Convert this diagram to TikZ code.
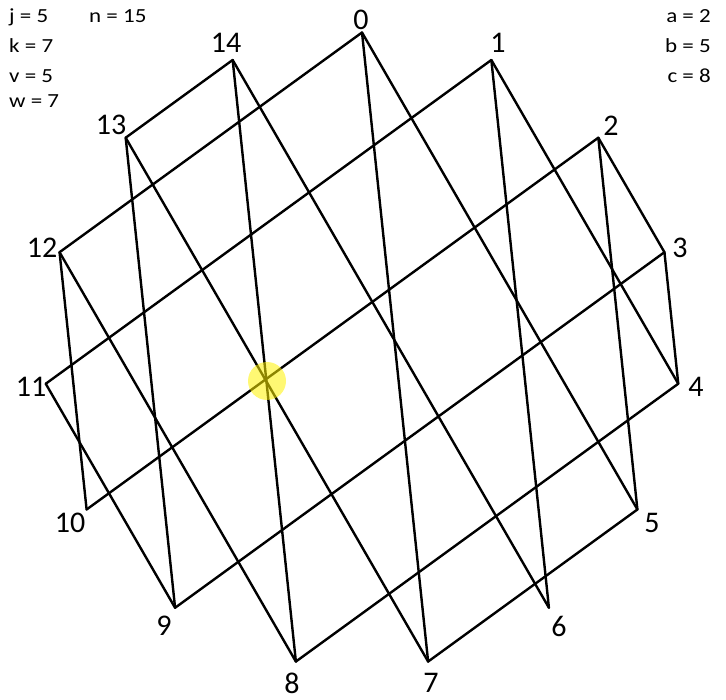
\documentclass[tikz,border=0pt]{standalone}
\usepackage{fontspec}
\usepackage{graphicx}
\setmainfont{Carlito}
\definecolor{hlyellow}{RGB}{255,242,0}
\newcommand{\ptext}[1]{\scalebox{1.15}[1]{#1}}
\begin{document}
\begin{tikzpicture}[x=1pt,y=-1pt,
  edge/.style={line width=2.4pt, line cap=round, line join=miter},
  vlabel/.style={font=\fontsize{30}{36}\selectfont, inner sep=0pt},
  param/.style={font=\fontsize{20}{24}\selectfont, inner sep=0pt},
  hlspot/.style={circle, fill=hlyellow, fill opacity=0.55, minimum size=38pt, inner sep=0pt}]
\useasboundingbox (0,0) rectangle (726,700);
\foreach \i in {0,...,14}
  \coordinate (v\i) at ({362+318*cos(90-24*\i)},{350.5-318*sin(90-24*\i)});
% family i+j = 5 (mod 15)
\foreach \a/\b in {0/5,1/4,2/3,14/6,13/7,12/8,11/9}
  \draw[edge] (v\a) -- (v\b);
% family i+j = 7 (mod 15)
\foreach \a/\b in {0/7,1/6,2/5,3/4,14/8,13/9,12/10}
  \draw[edge] (v\a) -- (v\b);
% family i+j = 12 (mod 15)
\foreach \a/\b in {0/12,1/11,2/10,3/9,4/8,5/7,13/14}
  \draw[edge] (v\a) -- (v\b);
\node[hlspot] (hl) at (267,381) {};
% vertex labels
\node[vlabel] (l0) at (361,20) {0};
\node[vlabel] (l1) at (498,43) {1};
\node[vlabel] (l2) at (611,126) {2};
\node[vlabel] (l3) at (680,248) {3};
\node[vlabel] (l4) at (696,387) {4};
\node[vlabel] (l5) at (652,523) {5};
\node[vlabel] (l6) at (559,626) {6};
\node[vlabel] (l7) at (431,683) {7};
\node[vlabel] (l8) at (292,683) {8};
\node[vlabel] (l9) at (164,626) {9};
\node[vlabel] (l10) at (70,523) {10};
\node[vlabel] (l11) at (31,387) {11};
\node[vlabel] (l12) at (42,248) {12};
\node[vlabel] (l13) at (111,125) {13};
\node[vlabel] (l14) at (226,43) {14};
% parameters
\node[param, anchor=base west] (pj) at (9,23) {\ptext{j = 5}};
\node[param, anchor=base west] (pn) at (89,23) {\ptext{n = 15}};
\node[param, anchor=base west] (pk) at (9,53) {\ptext{k = 7}};
\node[param, anchor=base west] (pv) at (9,83) {\ptext{v = 5}};
\node[param, anchor=base west] (pw) at (9,108) {\ptext{w = 7}};
\node[param, anchor=base east] (pa) at (711,23) {\ptext{a = 2}};
\node[param, anchor=base east] (pb) at (711,53) {\ptext{b = 5}};
\node[param, anchor=base east] (pc) at (711,83) {\ptext{c = 8}};
\end{tikzpicture}
\end{document}
